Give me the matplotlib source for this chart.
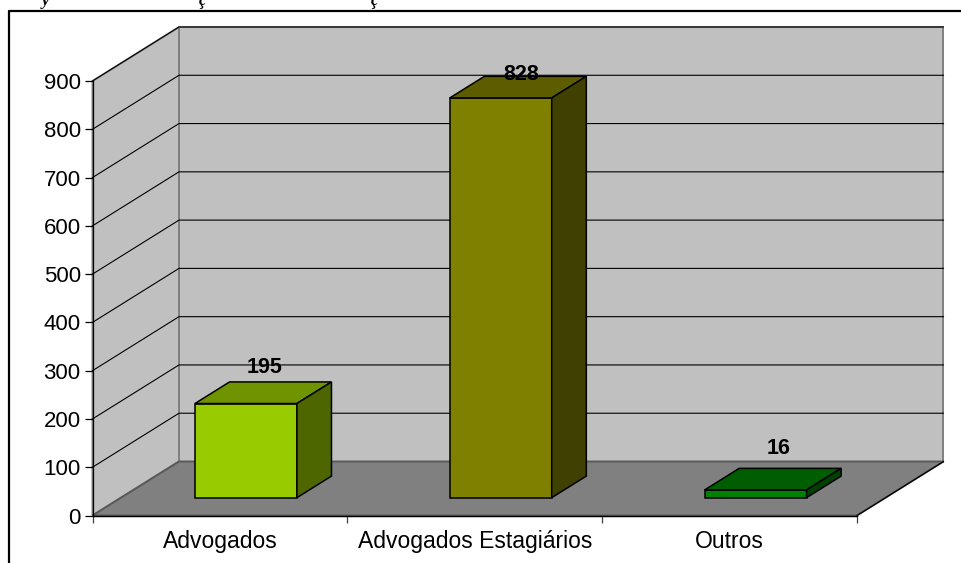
import matplotlib
matplotlib.use("Agg")
import matplotlib.pyplot as plt
from matplotlib.patches import Polygon

# Data
categories = ["Advogados", "Advogados Estagiários", "Outros"]
values = [195, 828, 16]
front_colors = ["#99cc00", "#808000", "#008000"]
top_colors = ["#6f9400", "#5d5d00", "#005d00"]
side_colors = ["#4d6600", "#404000", "#004000"]
y_ticks = list(range(0, 1000, 100))

# The value labels were moved by hand in the original chart
label_lift = [56, 30, 66]
label_shift = [0.005, 0.012, 0.024]

W, H = 961, 563
plt.rcParams["font.family"] = ["Liberation Sans", "DejaVu Sans"]

fig = plt.figure(figsize=(W / 100, H / 100), dpi=100)

# Page frame and the clipped caption above it
fig.add_artist(plt.Line2D([9 / W, 9 / W, 1], [0, 1 - 11 / H, 1 - 11 / H], color="black", lw=1.6))
for px, ch in [(42, "y"), (199, "ç"), (371, "ç")]:
    fig.text(px / W, 1 - 1 / H, ch, style="italic", fontweight="bold", family="Liberation Serif",
             fontsize=12, va="center")

left, right, top, bottom = 92.5, 857, 81, 515.5
ax = fig.add_axes([left / W, 1 - bottom / H, (right - left) / W, (bottom - top) / H])
ax.set_xlim(0, 3)
ax.set_ylim(0, 900)
ax.patch.set_visible(False)
for name in ["top", "right"]:
    ax.spines[name].set_visible(False)
ax.spines["left"].set_linewidth(0.9)
ax.spines["bottom"].set_linewidth(0.9)

# 3D offset of the back wall, in data units
dx = 86.5 / (right - left) * 3
dy = 54 / (bottom - top) * 900


def proj(x, y, d):
    return (x + d * dx, y + d * dy)


def poly(points, color, edge="black", lw=1.0, z=2):
    ax.add_patch(Polygon(points, closed=True, facecolor=color, edgecolor=edge,
                         lw=lw, zorder=z, clip_on=False, joinstyle="miter"))


# Walls and floor
poly([proj(0, 0, 1), proj(3, 0, 1), proj(3, 900, 1), proj(0, 900, 1)], "#c0c0c0", "#808080", 1.4, 1)
poly([proj(0, 0, 0), proj(0, 0, 1), proj(0, 900, 1), proj(0, 900, 0)], "#c0c0c0", "#808080", 1.4, 1)
poly([proj(0, 0, 0), proj(3, 0, 0), proj(3, 0, 1), proj(0, 0, 1)], "#808080", "#595959", 1.4, 1)
ax.plot([proj(3, 0, 0)[0], proj(3, 0, 1)[0]], [0, dy], color="black", lw=0.9, zorder=1.5, clip_on=False)
ax.plot([0, 3], [0, 0], color="black", lw=0.9, zorder=1.5, clip_on=False)

# Gridlines run along the side wall and the back wall
for t in y_ticks[1:]:
    xs = [0, dx, 3 + dx]
    ys = [t, t + dy, t + dy]
    ax.plot(xs, ys, color="black", lw=0.8, zorder=1.2, clip_on=False)

# Bars
bar_w = 0.4
d0, d1 = 0.33, 0.73
for i, v in enumerate(values):
    x0, x1 = i + 0.49 - bar_w / 2, i + 0.49 + bar_w / 2
    poly([proj(x0, 0, d0), proj(x1, 0, d0), proj(x1, v, d0), proj(x0, v, d0)], front_colors[i], lw=1.1, z=3 + i)
    poly([proj(x0, v, d0), proj(x1, v, d0), proj(x1, v, d1), proj(x0, v, d1)], top_colors[i], lw=1.1, z=3 + i)
    poly([proj(x1, 0, d0), proj(x1, 0, d1), proj(x1, v, d1), proj(x1, v, d0)], side_colors[i], lw=1.1, z=3 + i)
    lx, ly = proj(i + 0.5 + label_shift[i], v, 0.5)
    ax.text(lx, ly + label_lift[i], str(v), ha="center", va="center", fontsize=15.5,
            fontweight="bold", color="black", zorder=10)

ax.set_yticks(y_ticks)
ax.set_xticks([0, 1, 2, 3])
ax.set_xticklabels([])
ax.tick_params(axis="y", length=6, width=0.9, labelsize=16, pad=2.5)
ax.tick_params(axis="x", length=5, width=0.9, color="#404040")
for i, c in enumerate(categories):
    ax.text(i + 0.5, -53, c, ha="center", va="center", fontsize=16.5, clip_on=False)

fig.savefig("out.png", dpi=100)
